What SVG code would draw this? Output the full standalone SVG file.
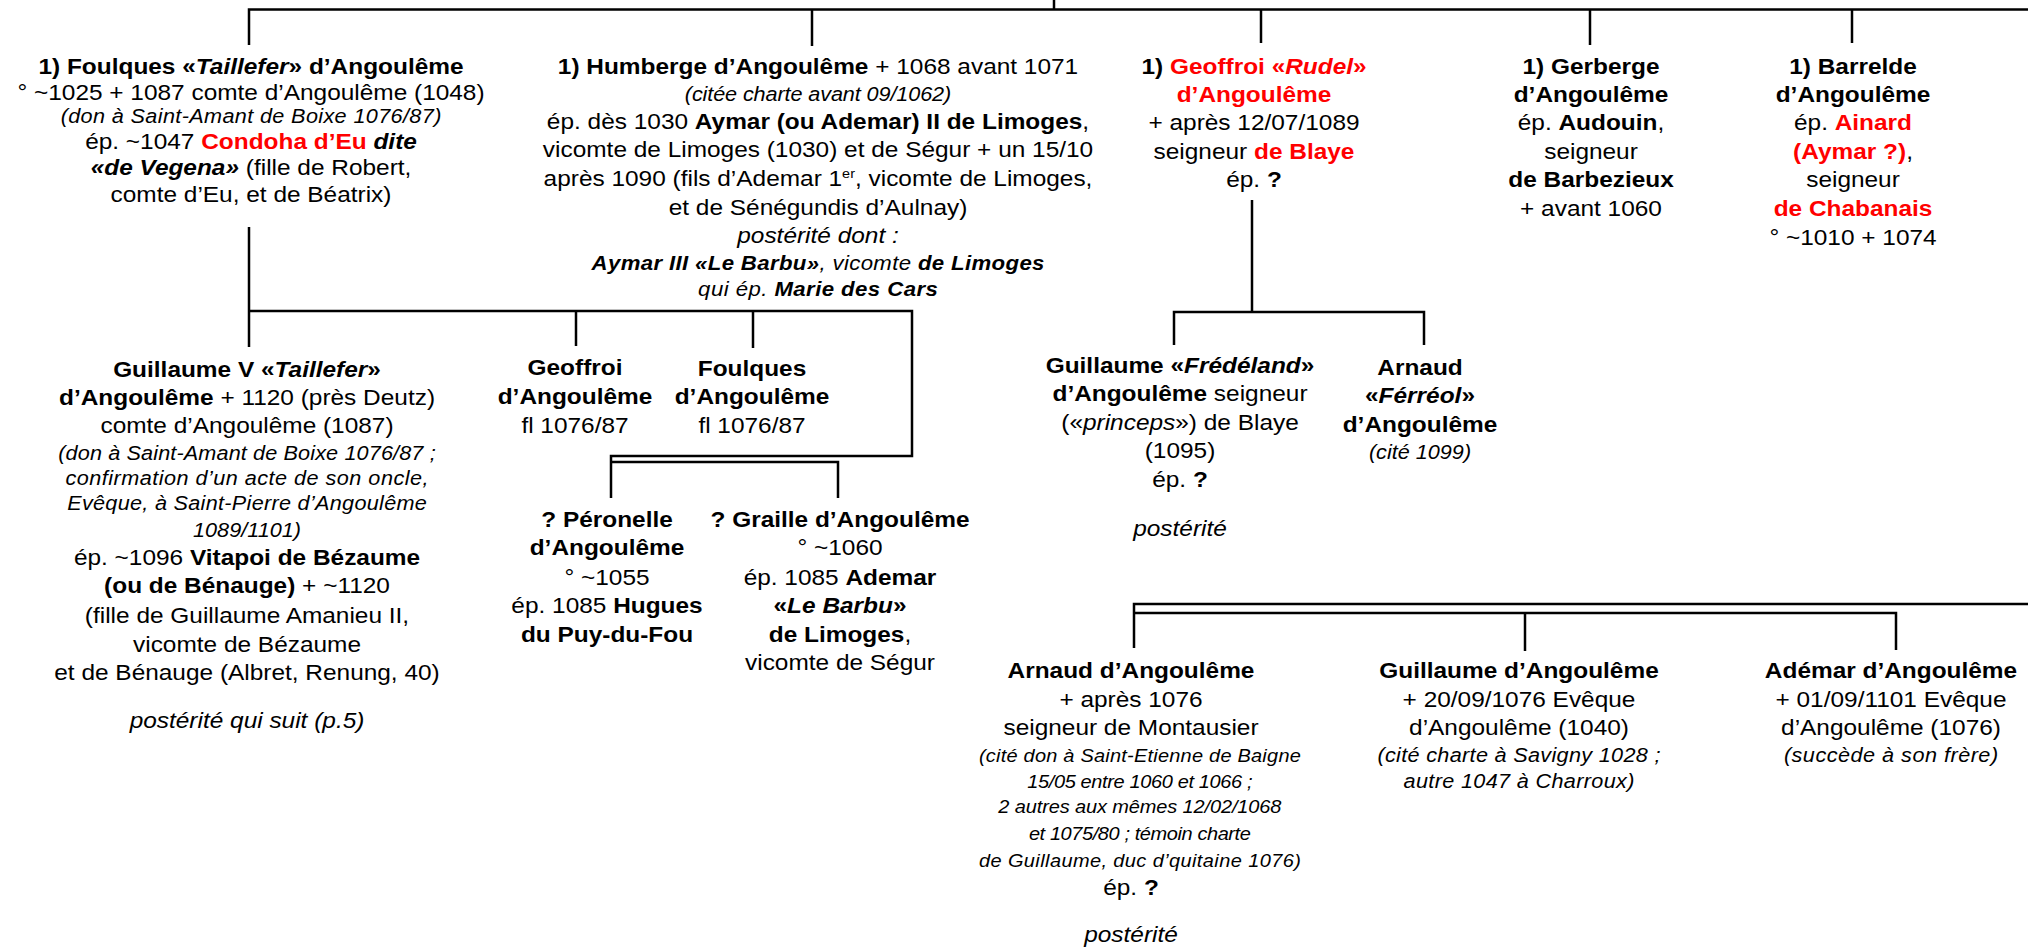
<svg xmlns="http://www.w3.org/2000/svg" width="2028" height="947" viewBox="0 0 2028 947">
<style>
text{font-family:"Liberation Sans",Arial,sans-serif;font-size:22px;text-anchor:middle;fill:#000}
.b{font-weight:bold}
.i{font-style:italic}
.r{fill:#f00}
.s{font-size:19.5px;font-style:italic}
.s18{font-size:18px;font-style:italic}
.s20{font-size:20px;font-style:italic}
.sup{font-size:13px}
.ln{fill:none;stroke:#000;stroke-width:2.5}
</style>
<rect width="2028" height="947" fill="#fff"/>
<g id="connectors" class="ln">
<path d="M1054,0 V9.5"/>
<path d="M249,45 V9.5 H2028"/>
<path d="M812,9.5 V46"/>
<path d="M1261,9.5 V43"/>
<path d="M1590,9.5 V45"/>
<path d="M1852,9.5 V43"/>
<path d="M249,227 V347"/>
<path d="M249,311 H912 V456 H611 V498"/>
<path d="M576,311 V346"/>
<path d="M753,311 V348"/>
<path d="M611,462 H838 V498"/>
<path d="M1252,200 V312"/>
<path d="M1174,345 V312 H1424 V345"/>
<path d="M2028,604 H1134 V648"/>
<path d="M1134,613 H1896 V650"/>
<path d="M1525,613 V651"/>
</g>
<g id="foulques" transform="translate(251,0) scale(1.11,1)">
<text y="74" class="b">1) Foulques «<tspan class="i">Taillefer</tspan>» d’Angoulême</text>
<text y="100">° ~1025 + 1087 comte d’Angoulême (1048)</text>
<text y="123" class="s" textLength="343" lengthAdjust="spacing">(don à Saint-Amant de Boixe 1076/87)</text>
<text y="149">ép. ~1047 <tspan class="b r">Condoha d’Eu</tspan> <tspan class="b i">dite</tspan></text>
<text y="175"><tspan class="b i">«de Vegena»</tspan> (fille de Robert,</text>
<text y="202">comte d’Eu, et de Béatrix)</text>
</g>
<g id="humberge" transform="translate(818,0) scale(1.11,1)">
<text y="74"><tspan class="b">1) Humberge d’Angoulême</tspan> + 1068 avant 1071</text>
<text y="101" class="s" textLength="240" lengthAdjust="spacing">(citée charte avant 09/1062)</text>
<text y="129">ép. dès 1030 <tspan class="b">Aymar (ou Ademar) II de Limoges</tspan>,</text>
<text y="157">vicomte de Limoges (1030) et de Ségur + un 15/10</text>
<text y="186">après 1090 (fils d’Ademar 1<tspan class="sup" dy="-8">er</tspan><tspan dy="8">, vicomte de Limoges,</tspan></text>
<text y="215">et de Sénégundis d’Aulnay)</text>
<text y="243" class="i">postérité dont :</text>
<text y="270" class="s20" textLength="408" lengthAdjust="spacing"><tspan class="b">Aymar III «Le Barbu»</tspan>, vicomte <tspan class="b">de Limoges</tspan></text>
<text y="296" class="s20" textLength="216" lengthAdjust="spacing">qui ép. <tspan class="b">Marie des Cars</tspan></text>
</g>
<g id="geoffroi-rudel" transform="translate(1254,0) scale(1.11,1)">
<text y="74" class="b">1) <tspan class="r">Geoffroi «<tspan class="i">Rudel</tspan>»</tspan></text>
<text y="102" class="b r">d’Angoulême</text>
<text y="130">+ après 12/07/1089</text>
<text y="159">seigneur <tspan class="b r">de Blaye</tspan></text>
<text y="187">ép. <tspan class="b">?</tspan></text>
</g>
<g id="gerberge" transform="translate(1591,0) scale(1.11,1)">
<text y="74" class="b">1) Gerberge</text>
<text y="102" class="b">d’Angoulême</text>
<text y="130">ép. <tspan class="b">Audouin</tspan>,</text>
<text y="159">seigneur</text>
<text y="187" class="b">de Barbezieux</text>
<text y="216">+ avant 1060</text>
</g>
<g id="barrelde" transform="translate(1853,0) scale(1.11,1)">
<text y="74" class="b">1) Barrelde</text>
<text y="102" class="b">d’Angoulême</text>
<text y="130">ép. <tspan class="b r">Ainard</tspan></text>
<text y="159"><tspan class="b r">(Aymar ?)</tspan>,</text>
<text y="187">seigneur</text>
<text y="216" class="b r">de Chabanais</text>
<text y="245">° ~1010 + 1074</text>
</g>
<g id="guillaume-v" transform="translate(247,0) scale(1.11,1)">
<text y="377" class="b">Guillaume V «<tspan class="i">Taillefer</tspan>»</text>
<text y="405"><tspan class="b">d’Angoulême</tspan> + 1120 (près Deutz)</text>
<text y="433">comte d’Angoulême (1087)</text>
<text y="460" class="s" textLength="340" lengthAdjust="spacing">(don à Saint-Amant de Boixe 1076/87 ;</text>
<text y="485" class="s" textLength="327" lengthAdjust="spacing">confirmation d’un acte de son oncle,</text>
<text y="510" class="s" textLength="324" lengthAdjust="spacing">Evêque, à Saint-Pierre d’Angoulême</text>
<text y="537" class="s">1089/1101)</text>
<text y="565">ép. ~1096 <tspan class="b">Vitapoi de Bézaume</tspan></text>
<text y="593"><tspan class="b">(ou de Bénauge)</tspan> + ~1120</text>
<text y="623">(fille de Guillaume Amanieu II,</text>
<text y="652">vicomte de Bézaume</text>
<text y="680">et de Bénauge (Albret, Renung, 40)</text>
<text y="728" class="i">postérité qui suit (p.5)</text>
</g>
<g id="geoffroi" transform="translate(575,0) scale(1.11,1)">
<text y="375" class="b">Geoffroi</text>
<text y="404" class="b">d’Angoulême</text>
<text y="433">fl 1076/87</text>
</g>
<g id="foulques-fils" transform="translate(752,0) scale(1.11,1)">
<text y="376" class="b">Foulques</text>
<text y="404" class="b">d’Angoulême</text>
<text y="433">fl 1076/87</text>
</g>
<g id="peronelle" transform="translate(607,0) scale(1.11,1)">
<text y="527" class="b">? Péronelle</text>
<text y="555" class="b">d’Angoulême</text>
<text y="585">° ~1055</text>
<text y="613">ép. 1085 <tspan class="b">Hugues</tspan></text>
<text y="642" class="b">du Puy-du-Fou</text>
</g>
<g id="graille" transform="translate(840,0) scale(1.11,1)">
<text y="527" class="b">? Graille d’Angoulême</text>
<text y="555">° ~1060</text>
<text y="585">ép. 1085 <tspan class="b">Ademar</tspan></text>
<text y="613" class="b">«<tspan class="i">Le Barbu</tspan>»</text>
<text y="642"><tspan class="b">de Limoges</tspan>,</text>
<text y="670">vicomte de Ségur</text>
</g>
<g id="guillaume-fredeland" transform="translate(1180,0) scale(1.11,1)">
<text y="373" class="b">Guillaume «<tspan class="i">Frédéland</tspan>»</text>
<text y="401"><tspan class="b">d’Angoulême</tspan> seigneur</text>
<text y="430">(«<tspan class="i">princeps</tspan>») de Blaye</text>
<text y="458">(1095)</text>
<text y="487">ép. <tspan class="b">?</tspan></text>
<text y="536" class="i">postérité</text>
</g>
<g id="arnaud-ferreol" transform="translate(1420,0) scale(1.11,1)">
<text y="375" class="b">Arnaud</text>
<text y="403" class="b">«<tspan class="i">Férréol</tspan>»</text>
<text y="432" class="b">d’Angoulême</text>
<text y="459" class="s">(cité 1099)</text>
</g>
<g id="arnaud" transform="translate(1131,0) scale(1.11,1)">
<text y="678" class="b">Arnaud d’Angoulême</text>
<text y="707">+ après 1076</text>
<text y="735">seigneur de Montausier</text>
<text x="8" y="762" class="s18" textLength="290" lengthAdjust="spacing">(cité don à Saint-Etienne de Baigne</text>
<text x="8" y="788" class="s18" textLength="203" lengthAdjust="spacing">15/05 entre 1060 et 1066 ;</text>
<text x="8" y="813" class="s18" textLength="255" lengthAdjust="spacing">2 autres aux mêmes 12/02/1068</text>
<text x="8" y="840" class="s18" textLength="200" lengthAdjust="spacing">et 1075/80 ; témoin charte</text>
<text x="8" y="867" class="s18" textLength="290" lengthAdjust="spacing">de Guillaume, duc d’quitaine 1076)</text>
<text y="895">ép. <tspan class="b">?</tspan></text>
<text y="942" class="i">postérité</text>
</g>
<g id="guillaume-eveque" transform="translate(1519,0) scale(1.11,1)">
<text y="678" class="b">Guillaume d’Angoulême</text>
<text y="707">+ 20/09/1076 Evêque</text>
<text y="735">d’Angoulême (1040)</text>
<text y="762" class="s" textLength="255" lengthAdjust="spacing">(cité charte à Savigny 1028 ;</text>
<text y="788" class="s" textLength="208" lengthAdjust="spacing">autre 1047 à Charroux)</text>
</g>
<g id="ademar" transform="translate(1891,0) scale(1.11,1)">
<text y="678" class="b">Adémar d’Angoulême</text>
<text y="707">+ 01/09/1101 Evêque</text>
<text y="735">d’Angoulême (1076)</text>
<text y="762" class="s" textLength="193" lengthAdjust="spacing">(succède à son frère)</text>
</g>
</svg>
